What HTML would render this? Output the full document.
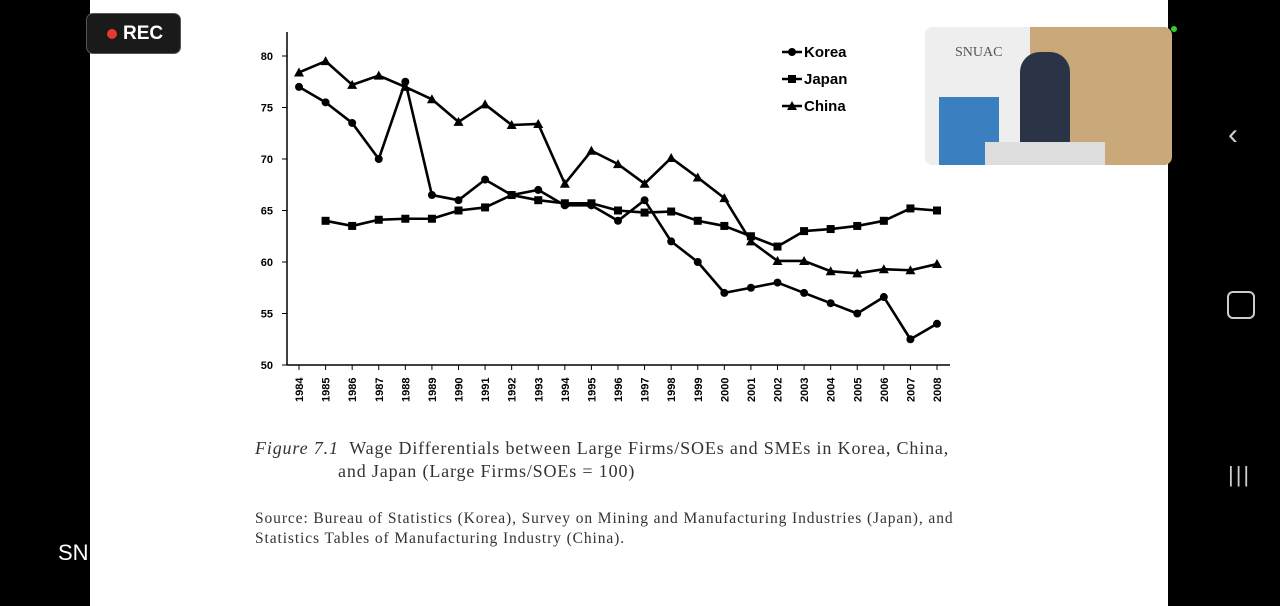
<!DOCTYPE html>
<html><head><meta charset="utf-8"><style>
body{margin:0;width:1280px;height:606px;background:#000;position:relative;overflow:hidden;font-family:"Liberation Sans",sans-serif}
.page{position:absolute;left:90px;top:0;width:1078px;height:606px;background:#fff}
.serif{font-family:"Liberation Serif",serif;color:#333;position:absolute}
</style></head><body>
<div class="page"></div>
<div style="position:absolute;left:86px;top:13px;width:93px;height:39px;background:#1a1a1a;border:1px solid #555;border-radius:7px;color:#fff;font-size:19px;font-weight:bold;line-height:39px"><span style="display:inline-block;width:10px;height:10px;border-radius:50%;background:#e53935;margin:0 6px 0 20px"></span>REC</div>
<div style="position:absolute;left:925px;top:27px;width:247px;height:138px;border-radius:8px;overflow:hidden;background:#c9a97a">
<div style="position:absolute;left:0;top:0;width:105px;height:138px;background:#eee"></div>
<div style="position:absolute;left:14px;top:70px;width:60px;height:68px;background:#3a7fc0"></div>
<div style="position:absolute;left:30px;top:18px;color:#555;font-family:'Liberation Serif',serif;font-size:14px">SNUAC</div>
<div style="position:absolute;left:95px;top:25px;width:50px;height:113px;background:#2b3347;border-radius:20px 20px 0 0"></div>
<div style="position:absolute;left:60px;top:115px;width:120px;height:23px;background:#ddd"></div>
</div>
<div style="position:absolute;left:1171px;top:26px;width:6px;height:6px;border-radius:50%;background:#3c3"></div>
<div style="position:absolute;left:1228px;top:118px;color:#ccc;font-size:30px">‹</div>
<div style="position:absolute;left:1227px;top:291px;width:24px;height:24px;border:2px solid #ccc;border-radius:6px"></div>
<div style="position:absolute;left:1228px;top:462px;color:#ccc;font-size:22px;letter-spacing:2px">|||</div>
<div style="position:absolute;left:58px;top:540px;color:#fff;font-size:22px">SN</div>
<svg id="chart" style="position:absolute;left:0;top:0" width="1280" height="606"></svg>
<div class="serif" style="left:255px;top:437px;font-size:18px;line-height:23px;width:720px;letter-spacing:0.85px;white-space:nowrap"><i>Figure 7.1</i>&nbsp; Wage Differentials between Large Firms/SOEs and SMEs in Korea, China,<br><span style="padding-left:83px">and Japan (Large Firms/SOEs = 100)</span></div>
<div class="serif" style="left:255px;top:509px;font-size:15.5px;line-height:20px;width:720px;letter-spacing:0.9px;white-space:nowrap">Source: Bureau of Statistics (Korea), Survey on Mining and Manufacturing Industries (Japan), and<br>Statistics Tables of Manufacturing Industry (China).</div>
<script>
const years=[1984,1985,1986,1987,1988,1989,1990,1991,1992,1993,1994,1995,1996,1997,1998,1999,2000,2001,2002,2003,2004,2005,2006,2007,2008];
const korea=[77,75.5,73.5,70,77.5,66.5,66,68,66.5,67,65.5,65.5,64,66,62,60,57,57.5,58,57,56,55,56.6,52.5,54];
const japan=[null,64,63.5,64.1,64.2,64.2,65,65.3,66.5,66,65.7,65.7,65,64.8,64.9,64,63.5,62.5,61.5,63,63.2,63.5,64,65.2,65];
const china=[78.4,79.5,77.2,78.1,77,75.8,73.6,75.3,73.3,73.4,67.6,70.8,69.5,67.6,70.1,68.2,66.2,62,60.1,60.1,59.1,58.9,59.3,59.2,59.8];
const yTicks=[50,55,60,65,70,75,80];
const svg=document.getElementById('chart');const NS='http://www.w3.org/2000/svg';
const X=i=>299+i*(937-299)/(years.length-1);
const Y=v=>365-(v-50)*10.3;
function mk(t,a,p){const e=document.createElementNS(NS,t);for(const k in a)e.setAttribute(k,a[k]);(p||svg).appendChild(e);return e;}
const ax=mk('line',{x1:287,y1:32,x2:287,y2:365,stroke:'#000','stroke-width':1.5});


const bx=mk('line',{x1:287,y1:365,x2:950,y2:365,stroke:'#000','stroke-width':1.5});


yTicks.forEach(v=>{mk('line',{x1:282,y1:Y(v),x2:287,y2:Y(v),stroke:'#000'});
const t=mk('text',{x:273,y:Y(v)+4,'text-anchor':'end','font-size':11,'font-weight':'bold','font-family':'Liberation Sans'});t.textContent=v;

});
years.forEach((yr,i)=>{mk('line',{x1:X(i),y1:365,x2:X(i),y2:370,stroke:'#000'});
const t=mk('text',{x:0,y:0,transform:`translate(${X(i)+4},402) rotate(-90)`,'font-size':11,'font-weight':'bold','font-family':'Liberation Sans'});t.textContent=yr;

});
function marker(g,type,x,y){if(type==='c')mk('circle',{cx:x,cy:y,r:4},g);else if(type==='s')mk('rect',{x:x-4,y:y-4,width:8,height:8},g);else mk('polygon',{points:`${x},${y-5} ${x-5},${y+4} ${x+5},${y+4}`},g);}
function series(name,vals,type){const g=mk('g',{fill:'#000'});


let d='';vals.forEach((v,i)=>{if(v==null)return;d+=(d?'L':'M')+X(i)+','+Y(v);});
mk('path',{d,fill:'none',stroke:'#000','stroke-width':2.6,'stroke-linejoin':'round'},g);
vals.forEach((v,i)=>{if(v!=null)marker(g,type,X(i),Y(v));});}
series('korea',korea,'c');series('japan',japan,'s');series('china',china,'t');
[['Korea','c',52],['Japan','s',79],['China','t',106]].forEach(([n,t,y])=>{const g=mk('g',{fill:'#000'});


mk('line',{x1:782,y1:y,x2:802,y2:y,stroke:'#000','stroke-width':2.5},g);marker(g,t,792,y);
const tx=mk('text',{x:804,y:y+5,'font-size':15,'font-weight':'bold','font-family':'Liberation Sans'},g);tx.textContent=n;});
</script>
</body></html>
